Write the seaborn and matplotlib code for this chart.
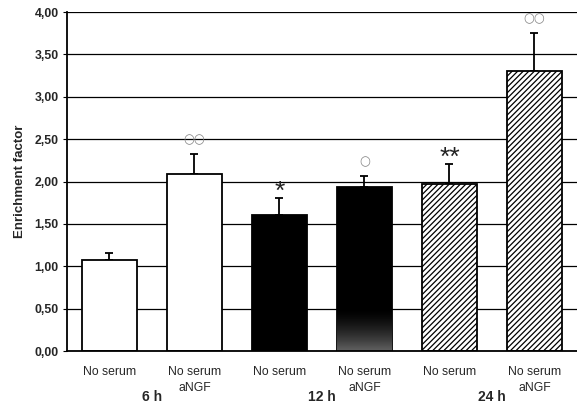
import numpy as np
import pandas as pd
import matplotlib
matplotlib.use('Agg')
import matplotlib.pyplot as plt
import matplotlib.transforms as mtransforms
import seaborn as sns

# Data
conditions = ['No serum', 'No serum\naNGF', 'No serum', 'No serum\naNGF', 'No serum', 'No serum\naNGF']
groups = ['6 h', '12 h', '24 h']
means = [1.07, 2.09, 1.60, 1.93, 1.97, 3.31]
errors = [0.09, 0.23, 0.20, 0.13, 0.24, 0.44]
marks = ['', '\u25cb\u25cb', '*', '\u25cb', '**', '\u25cb\u25cb']

sns.set_style('white')
plt.rcParams['font.family'] = ['Liberation Sans', 'DejaVu Sans']
plt.rcParams['hatch.linewidth'] = 0.9

df = pd.DataFrame({'pos': [str(i) for i in range(6)], 'value': means})

fig = plt.figure(figsize=(5.77, 4.03), dpi=100)
ax = fig.add_axes([0.116, 0.129, 0.884, 0.841])

sns.barplot(data=df, x='pos', y='value', color='white', width=0.64,
            edgecolor='black', linewidth=1.3, ax=ax, zorder=2)

face = ['white', 'white', 'black', 'black', 'white', 'white']
hatch = [None, None, None, None, '//////', '//////']
for p, fc, h in zip(ax.patches, face, hatch):
    p.set_facecolor(fc)
    if h:
        p.set_hatch(h)

# grey fade at the foot of the 12 h aNGF bar, as in the scan
p4 = ax.patches[3]
bx, bw, bh = p4.get_x(), p4.get_width(), p4.get_height()
yy = np.linspace(bh, 0, 200)
shade = 0.38 * np.clip(1 - yy / 0.5, 0, 1) ** 1.5
ax.imshow(shade[:, None], extent=[bx, bx + bw, 0, bh], cmap='gray', vmin=0, vmax=1,
          aspect='auto', zorder=2.2, clip_path=p4, interpolation='bilinear')

x = np.arange(6)
ax.errorbar(x, means, yerr=[np.zeros(6), errors], fmt='none', ecolor='black',
            elinewidth=1.3, capsize=3, capthick=1.3, zorder=1)

for xi, m, e, t in zip(x, means, errors, marks):
    if not t:
        continue
    if '*' in t:
        ax.text(xi, m + e - 0.01, t, ha='center', va='baseline', fontsize=19,
                color='#222222')
    else:
        ax.text(xi, m + e + 0.1, t, ha='center', va='bottom', fontsize=9, color='#888888',
                family=['DejaVu Sans'])

ax.set_ylim(0, 4)
ax.set_xlim(-0.5, 5.5)
ticks = np.arange(0, 4.01, 0.5)
ax.set_yticks(ticks)
ax.set_yticklabels([f'{v:.2f}'.replace('.', ',') for v in ticks], fontsize=8.8,
                   fontweight='bold')
ax.yaxis.grid(True, color='black', linewidth=0.9)
ax.set_axisbelow(True)

ax.set_xticks(x)
ax.set_xticklabels(conditions, fontsize=8.8, linespacing=1.45)
ax.tick_params(axis='x', length=0, pad=11)
ax.set_xticks(np.arange(0.5, 5.5, 1), minor=True)
ax.tick_params(axis='x', which='minor', length=3, color='black', direction='out')
ax.tick_params(axis='y', length=3, color='black', direction='out', left=True, pad=3)

trans = mtransforms.blended_transform_factory(ax.transData, fig.transFigure)
for i, g in enumerate(groups):
    ax.text(2 * i + 0.5, 0.005, g, transform=trans, ha='center', va='baseline',
            fontsize=10, fontweight='bold')

ax.set_xlabel('')
ax.set_ylabel('Enrichment factor', fontsize=9.5, fontweight='bold', labelpad=6)

for s in ['top', 'right']:
    ax.spines[s].set_visible(False)
for s in ['left', 'bottom']:
    ax.spines[s].set_color('black')
    ax.spines[s].set_linewidth(1.3)

fig.savefig('out.png', dpi=100)
plt.close(fig)
